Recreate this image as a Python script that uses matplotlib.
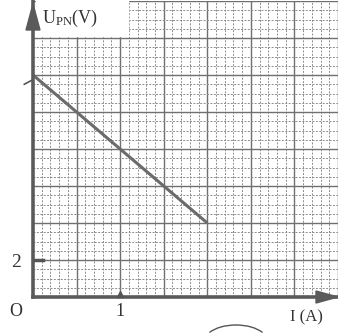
import numpy as np
import matplotlib
matplotlib.use('Agg')
from matplotlib import pyplot as plt
from matplotlib.patches import Arc

# data
current = [0.0, 2.0]        # I (A)
voltage = [12.0, 4.0]       # U_PN (V)
x_tick_vals = [1]
x_tick_labels = ['1']
y_tick_vals = [2]
y_tick_labels = ['2']

x_max = 3.5
y_max = 16.0

plt.rcParams['font.family'] = ['Liberation Serif', 'DejaVu Serif']

fig = plt.figure(figsize=(3.38, 3.33), dpi=100)
ax = fig.add_axes([33/338, 36/333, 1 - 33/338, 296/333])
ax.set_xlim(0, x_max)
ax.set_ylim(0, y_max)

# graph paper
for x in np.arange(0.1, x_max + 0.01, 0.1):
    major = abs(x / 0.5 - round(x / 0.5)) < 1e-6
    ax.axvline(x, color='#707070' if major else '#8c8c8c',
               lw=1.0 if major else 0.7,
               ls='-' if major else (0, (2, 1.5)), zorder=1)
for y in np.arange(0.5, y_max + 0.01, 0.5):
    major = abs(y / 2 - round(y / 2)) < 1e-6
    ax.axhline(y, color='#707070' if major else '#8c8c8c',
               lw=1.0 if major else 0.7,
               ls='-' if major else (0, (2, 1.5)), zorder=1)

ax.plot(current, voltage, color='#6b6b6b', lw=2.2, solid_capstyle='butt', zorder=3)

for s in ['top', 'right']:
    ax.spines[s].set_visible(False)
for s in ['left', 'bottom']:
    ax.spines[s].set_color('#5a5a5a')
    ax.spines[s].set_linewidth(2.6)
    ax.spines[s].set_zorder(4)
ax.set_xticks([])
ax.set_yticks([])

# tick marks and labels
for xv, lab in zip(x_tick_vals, x_tick_labels):
    ax.plot([xv], [0.15], marker='^', ms=5, color='#555555', clip_on=False, zorder=5)
    ax.text(xv, -0.8, lab, ha='center', va='center', fontsize=13, color='#333333')
for yv, lab in zip(y_tick_vals, y_tick_labels):
    ax.plot([0.02, 0.12], [yv, yv], color='#555555', lw=2.5, clip_on=False, zorder=5)
    ax.text(-0.2, yv - 0.15, lab, ha='center', va='center', fontsize=14, color='#333333')
ax.plot([-0.1, -0.02], [11.5, 11.7], color='#555555', lw=1.2, clip_on=False, zorder=5)
ax.text(-0.2, -0.8, 'O', ha='center', va='center', fontsize=13, color='#333333')

# label area on top-left, paper is blank there
fig.patches.append(plt.Rectangle((36/338, 1 - 36/333), 92/338, 36/333,
                                 transform=fig.transFigure, color='white', zorder=6))
fig.text(42/338, 1 - 18/333, r'$\mathregular{U_{PN}}$(V)', ha='left', va='center',
         fontsize=13, color='#333333', zorder=7)
fig.text(306/338, 1 - 317/333, 'I (A)', ha='center', va='center',
         fontsize=12, color='#333333')

# axis arrows
fig.patches.append(plt.Polygon([[26/338, 1 - 30/333], [40/338, 1 - 30/333], [33/338, 1 - 4/333]],
                               closed=True, transform=fig.transFigure, color='#5a5a5a', zorder=8))
fig.patches.append(plt.Polygon([[316/338, 1 - 291/333], [316/338, 1 - 303/333], [338/338, 1 - 297/333]],
                               closed=True, transform=fig.transFigure, color='#5a5a5a', zorder=8))

# piece of the next figure at the bottom
fig.patches.append(Arc((236/338, 1 - 342/333), 64/338, 34/333, theta1=20, theta2=160,
                       transform=fig.transFigure, color='#555555', lw=1.0))

fig.savefig('out.png', dpi=100, facecolor='white')
